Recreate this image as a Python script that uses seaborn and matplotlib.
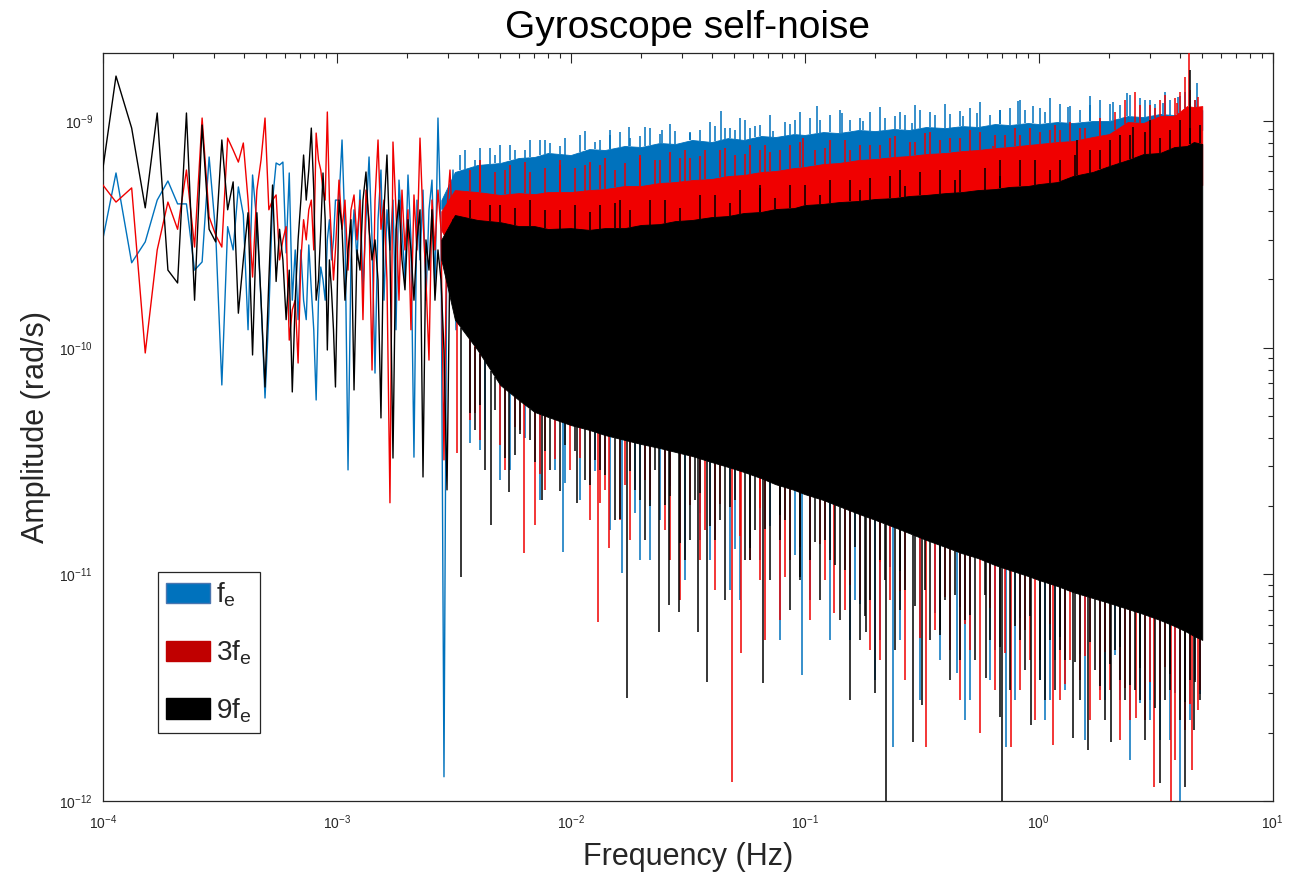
import numpy as np
import matplotlib
matplotlib.use("Agg")
import matplotlib.pyplot as plt
from matplotlib.patches import Patch
from matplotlib.ticker import FixedLocator, NullFormatter, LogFormatterSciNotation
import seaborn as sns

# ---------------------------------------------------------------------------
# Data (amplitudes in units of 1e-10 rad/s, frequencies in Hz)
# ---------------------------------------------------------------------------
AMP_UNIT = 1e-10

series_names = ["f$_{\\mathregular{e}}$", "3f$_{\\mathregular{e}}$", "9f$_{\\mathregular{e}}$"]
line_colors = ["#0072BD", "#F00000", "#000000"]
legend_faces = ["#0072BD", "#C00000", "#000000"]
legend_edges = ["#4A76B0", "#C00000", "#000000"]

x_major = [1e-4, 1e-3, 1e-2, 1e-1, 1e0, 1e1]
y_major = [1e-12, 1e-11, 1e-10, 1e-9]

# lowest spectral bins (bin spacing 1.9e-5 Hz, bins 5..52)
bin_width = 1.9e-5
low_bins = np.arange(5, 53)

blue_low = [2.29, 5.90, 2.37, 2.93, 4.48, 5.44, 4.31, 4.31, 2.20, 2.39,
            6.94, 3.21, 0.685, 3.42, 2.70, 5.12, 3.86, 1.20, 5.78, 3.56,
            1.62, 0.600, 1.42, 4.48, 6.53, 6.40, 6.59, 2.62, 5.90, 1.62,
            2.70, 1.33, 2.70, 1.62, 1.33, 2.84, 1.80, 1.20, 0.588, 1.62,
            2.27, 1.99, 1.62, 2.99, 3.67, 2.44, 2.99, 4.48]
red_low = [5.61, 4.39, 5.07, 0.948, 2.70, 4.39, 3.33, 6.08, 2.78, 10.31,
           3.78, 3.14, 2.78, 8.41, 7.45, 6.59, 8.00, 4.48, 2.05, 4.96,
           6.73, 10.31, 4.06, 4.48, 4.72, 2.44, 2.99, 3.42, 1.08, 1.47,
           1.62, 0.856, 2.44, 3.67, 2.99, 4.06, 4.48, 2.70, 8.85, 6.73,
           6.08, 4.96, 4.48, 10.96, 4.48, 2.99, 1.99, 2.70]
black_low = [4.18, 15.79, 9.31, 4.14, 10.85, 2.20, 1.93, 10.85, 1.62, 9.60,
             3.33, 2.93, 8.25, 4.06, 5.39, 1.42, 2.44, 3.94, 0.929, 3.94,
             1.62, 0.671, 1.99, 5.22, 1.96, 3.33, 2.44, 1.33, 2.20, 0.638,
             1.62, 2.99, 4.48, 7.08, 4.48, 6.08, 9.31, 4.96, 1.62, 1.99,
             3.33, 5.90, 3.67, 0.977, 2.44, 1.80, 1.20, 0.671]

# 1 mHz .. 3.2 mHz
mid_freq = [1.023e-3, 1.054e-3, 1.085e-3, 1.118e-3, 1.151e-3, 1.186e-3, 1.221e-3, 1.258e-3,
            1.295e-3, 1.334e-3, 1.375e-3, 1.416e-3, 1.458e-3, 1.502e-3, 1.546e-3, 1.593e-3,
            1.640e-3, 1.689e-3, 1.740e-3, 1.792e-3, 1.846e-3, 1.901e-3, 1.958e-3, 2.017e-3,
            2.077e-3, 2.139e-3, 2.203e-3, 2.270e-3, 2.338e-3, 2.407e-3, 2.480e-3, 2.554e-3,
            2.630e-3, 2.709e-3, 2.791e-3, 2.874e-3, 2.961e-3, 3.049e-3, 3.141e-3, 3.235e-3]
blue_mid = [4.48, 8.25, 3.33, 0.289, 2.44, 4.06, 2.44, 4.96, 1.80, 3.67,
            6.94, 2.99, 0.773, 3.67, 6.08, 1.62, 4.06, 2.70, 4.48, 1.20,
            5.49, 3.33, 1.99, 5.78, 2.99, 0.329, 4.48, 2.44, 4.96, 1.62,
            4.06, 5.49, 1.80, 10.31, 3.33, 0.0128, 4.48, 2.44, 6.08, 1.20]
red_mid = [5.49, 3.33, 4.48, 2.20, 4.06, 4.72, 2.99, 4.48, 1.33, 4.96,
           3.67, 0.797, 4.48, 8.25, 3.33, 4.48, 1.99, 0.207, 8.08, 4.06,
           1.62, 4.96, 2.70, 4.06, 1.20, 4.72, 2.70, 8.41, 3.67, 1.99,
           0.882, 4.48, 2.70, 4.96, 3.33, 0.320, 4.06, 6.08, 2.99, 4.48]
black_mid = [4.48, 3.33, 1.62, 2.70, 3.67, 0.651, 2.70, 2.20, 4.48, 5.96,
             3.33, 2.44, 2.99, 1.99, 0.490, 4.06, 7.08, 2.70, 0.326, 3.33,
             4.48, 2.44, 1.80, 3.67, 2.70, 1.62, 2.99, 4.06, 0.269, 2.99,
             2.20, 4.06, 1.62, 2.70, 1.99, 0.977, 0.236, 2.70, 3.67, 1.62]

# dense part of the spectrum: envelope of each trace above 2.8 mHz
band_freq = [2.8e-3, 3.2e-3, 4e-3, 5e-3, 6e-3, 7e-3, 8e-3, 1e-2, 1.2e-2, 1.4e-2, 1.7e-2,
             2e-2, 2.4e-2, 2.8e-2, 3.3e-2, 4e-2, 4.7e-2, 5.5e-2, 6.5e-2, 7.5e-2, 9e-2,
             0.1, 0.12, 0.14, 0.17, 0.2, 0.24, 0.28, 0.33, 0.4, 0.47,
             0.55, 0.65, 0.75, 0.9, 1.0, 1.2, 1.4, 1.7, 2.0, 2.4,
             2.8, 3.3, 3.8, 4.3, 4.6, 5.0]
blue_top = [4.48, 5.96, 6.40, 6.53, 6.87, 6.94, 7.23, 7.08, 7.52, 7.45, 7.76,
            7.68, 8.00, 7.92, 8.25, 8.08, 8.41, 8.25, 8.59, 8.50, 8.76,
            8.68, 8.94, 8.85, 9.13, 9.03, 9.22, 9.13, 9.41, 9.31, 9.50,
            9.41, 9.70, 9.60, 9.80, 9.70, 9.90, 9.80, 10.0, 10.0, 10.52,
            10.41, 10.74, 10.63, 11.18, 11.07, 11.18]
blue_floor = [4.10, 4.05, 4.26, 3.93, 4.35, 4.05, 4.48, 4.13, 4.62, 4.26, 4.72,
              4.39, 4.81, 4.48, 4.96, 4.62, 5.12, 4.72, 5.33, 4.91, 5.49,
              5.12, 5.61, 5.22, 5.78, 5.44, 5.90, 5.49, 6.02, 5.66, 6.08,
              5.78, 6.20, 5.90, 6.40, 5.96, 6.53, 6.08, 6.87, 6.40, 8.00,
              7.45, 8.50, 8.00, 9.60, 8.85, 9.13]
red_top = [4.00, 4.96, 4.86, 4.72, 4.81, 4.76, 4.86, 4.86, 4.96, 5.01, 5.17,
           5.17, 5.33, 5.38, 5.49, 5.55, 5.72, 5.78, 5.96, 6.02, 6.20,
           6.27, 6.46, 6.53, 6.73, 6.80, 6.94, 7.01, 7.15, 7.23, 7.37,
           7.45, 7.60, 7.68, 7.84, 7.92, 8.08, 8.16, 8.50, 8.76, 9.90,
           9.80, 10.52, 10.52, 11.64, 11.53, 11.64]
red_floor = [3.30, 2.56, 2.39, 2.49, 2.25, 2.39, 2.16, 2.32, 2.09, 2.29, 2.16,
             2.39, 2.25, 2.49, 2.32, 2.59, 2.44, 2.70, 2.54, 2.81, 2.64,
             2.90, 2.75, 2.99, 2.84, 3.08, 2.93, 3.14, 2.99, 3.24, 3.08,
             3.31, 3.17, 3.44, 3.31, 3.55, 3.44, 3.85, 3.97, 4.26, 4.48,
             4.86, 4.72, 5.22, 5.07, 5.49, 5.22]
black_top = [3.00, 3.85, 3.66, 3.58, 3.44, 3.44, 3.34, 3.37, 3.31, 3.37, 3.37,
             3.48, 3.51, 3.62, 3.66, 3.77, 3.81, 3.93, 3.97, 4.09, 4.13,
             4.26, 4.31, 4.39, 4.44, 4.53, 4.57, 4.67, 4.72, 4.81, 4.86,
             4.96, 5.01, 5.12, 5.17, 5.27, 5.38, 5.72, 5.96, 6.33, 6.73,
             7.15, 7.23, 7.68, 7.76, 8.08, 7.92]
black_floor = [2.44, 1.33, 0.977, 0.685, 0.588, 0.521, 0.495, 0.456, 0.434, 0.412, 0.392,
               0.376, 0.361, 0.347, 0.333, 0.313, 0.298, 0.283, 0.266, 0.250, 0.236,
               0.226, 0.213, 0.200, 0.185, 0.174, 0.162, 0.152, 0.142, 0.132, 0.124,
               0.118, 0.110, 0.1046, 0.0984, 0.0945, 0.0889, 0.0836, 0.0787, 0.0748, 0.0704,
               0.0669, 0.0629, 0.0592, 0.0557, 0.0535, 0.0514]

# isolated peaks above the envelopes
blue_up_freq = [4.99e-3, 7.39e-3, 1.151e-2, 1.472e-2, 1.775e-2, 2.456e-2, 3.24e-2, 4.14e-2, 4.39e-2, 5.04e-2,
                5.84e-2, 7.32e-2, 9.09e-2, 0.1129, 0.1443, 0.1775, 0.2204, 0.2555, 0.2874, 0.3605,
                0.4748, 0.545, 0.6833, 0.8157, 0.9454, 1.334, 1.657, 2.077, 2.385, 2.846,
                3.398, 3.94, 4.75,
                3.534e-3, 3.900e-3, 4.520e-3, 5.782e-3, 6.702e-3, 8.160e-3, 9.458e-3, 1.334e-2, 1.625e-2, 1.978e-2,
                2.182e-2, 2.791e-2, 3.569e-2, 4.795e-2, 5.558e-2, 6.442e-2, 8.238e-2, 0.1054, 0.1283, 0.1562,
                0.1901, 0.2432, 0.3110, 0.4178, 0.5086, 0.6192, 0.7539, 0.8738, 1.064, 1.233,
                1.501, 1.828, 2.225, 2.709, 3.140, 3.640, 4.219, 4.655]
blue_up_amp = [7.84, 8.25, 9.03, 8.68, 9.41, 9.13, 8.85, 9.50, 11.1, 9.13,
               9.31, 9.03, 10.1, 11.6, 10.85, 10.0, 10.31, 10.96, 9.80, 10.63,
               10.52, 10.85, 11.2, 12.3, 11.6, 11.5, 11.8, 12.1, 13.3, 12.4,
               12.0, 12.8, 14.7,
               7.45, 6.73, 7.60, 7.45, 8.25, 8.00, 8.41, 8.25, 8.94, 8.59,
               9.31, 9.03, 9.13, 9.31, 10.10, 9.60, 9.90, 10.31, 10.63, 10.10,
               10.96, 10.52, 11.18, 10.74, 11.41, 10.63, 11.41, 11.18, 10.96, 11.88,
               11.18, 12.38, 11.76, 12.63, 11.88, 12.38, 13.42, 12.38]
blue_grass_freq = [3.364e-3, 4.097e-3, 4.748e-3, 5.504e-3, 6.380e-3, 7.768e-3, 9.004e-3, 1.0958e-2, 1.2702e-2, 1.4722e-2,
                   1.7925e-2, 2.0776e-2, 2.4080e-2, 2.6571e-2, 3.2350e-2, 3.9385e-2, 4.5649e-2, 5.2909e-2, 6.1325e-2, 7.1078e-2,
                   8.6537e-2, 9.5484e-2, 0.11624, 0.14153, 0.17231, 0.20978, 0.26829, 0.29604, 0.34311, 0.39770,
                   0.46096, 0.56122, 0.68328, 0.83189, 1.0129, 1.1176, 1.3606, 1.6566, 2.0169, 2.4555,
                   2.9896, 3.4650, 4.0161]
blue_grass_amp = [7.08, 7.60, 7.08, 7.84, 7.45, 8.25, 7.76, 8.68, 8.08, 9.13,
                  8.41, 9.41, 8.76, 9.70, 8.94, 9.90, 9.31, 10.31, 9.50, 10.63,
                  9.70, 10.96, 10.10, 11.18, 10.31, 11.53, 10.63, 11.76, 10.96, 11.88,
                  11.07, 12.13, 11.18, 12.38, 11.41, 12.63, 11.64, 12.89, 11.88, 13.02,
                  12.38, 13.42, 12.89]
red_up_freq = [4.10e-3, 9.00e-3, 1.978e-2, 4.35e-2, 9.83e-2, 0.1562, 0.3786, 0.6378, 1.118, 1.828,
               2.580, 3.299, 3.90, 4.22, 4.39, 4.80, 1.334e-2, 2.93e-2, 6.44e-2, 0.2098, 0.832,
               3.712e-3, 4.748e-3, 5.504e-3, 6.702e-3, 1.043e-2, 1.209e-2, 1.547e-2, 2.293e-2, 2.657e-2, 3.235e-2,
               3.749e-2, 5.037e-2, 5.838e-2, 7.108e-2, 8.654e-2, 0.1107, 0.1283, 0.1723, 0.2315, 0.2960,
               0.3431, 0.4610, 0.5612, 0.7177, 0.9179, 1.233, 1.361, 1.577, 2.119, 2.338,
               2.990, 3.465, 4.016, 4.655]
red_up_amp = [6.73, 6.40, 6.87, 7.45, 8.41, 7.45, 8.25, 7.76, 9.13, 9.60,
              13.4, 12.4, 12.0, 15.6, 21.6, 12.8, 6.40, 6.87, 7.45, 7.84, 8.68,
              6.08, 5.96, 6.40, 5.96, 6.20, 6.60, 6.08, 6.73, 7.30, 6.87,
              7.45, 7.08, 7.84, 7.30, 7.84, 7.45, 8.25, 7.84, 8.41, 8.08,
              8.94, 8.41, 8.94, 8.68, 9.31, 9.13, 9.90, 9.31, 10.96, 12.38,
              11.76, 13.02, 13.42, 12.38]
red_grass_freq = [4.097e-3, 5.240e-3, 6.380e-3, 7.768e-3, 9.004e-3, 1.1511e-2, 1.4015e-2, 1.7064e-2, 1.9778e-2, 2.4080e-2,
                  3.0797e-2, 3.5694e-2, 4.5649e-2, 5.5577e-2, 6.7665e-2, 7.8427e-2, 9.5484e-2, 0.12211, 0.14867, 0.19013,
                  0.24315, 0.28184, 0.32664, 0.41775, 0.50862, 0.65047, 0.79195, 1.0129, 1.1739, 1.5013,
                  1.8279, 2.7094, 3.1404, 3.8233, 4.4313]
red_grass_amp = [6.40, 6.08, 6.60, 6.20, 6.73, 6.40, 6.87, 6.53, 7.08, 6.73,
                 7.45, 7.01, 7.60, 7.15, 7.84, 7.45, 8.08, 7.60, 8.25, 7.84,
                 8.59, 8.08, 8.85, 8.41, 9.13, 8.68, 9.31, 8.94, 9.60, 9.31,
                 10.31, 11.76, 11.41, 12.63, 13.70]
black_up_freq = [1.624e-2, 6.44e-2, 0.2555, 0.6833, 1.458, 2.529, 2.989, 4.43,
                 4.988e-3, 9.004e-3, 1.334e-2, 2.182e-2, 3.569e-2, 5.291e-2, 8.654e-2, 0.1283, 0.1901, 0.3110,
                 0.4610, 0.8319, 1.233, 1.828, 2.225, 3.640, 4.016, 4.890]
black_up_amp = [4.48, 5.22, 6.08, 6.73, 8.25, 9.41, 10.1, 16.8,
                4.26, 4.05, 4.26, 4.48, 4.72, 4.96, 5.22, 5.49, 5.61, 5.96,
                6.08, 6.73, 6.73, 7.45, 8.68, 9.13, 10.10, 9.60]
black_grass_freq = [3.712e-3, 4.520e-3, 5.782e-3, 6.702e-3, 7.768e-3, 1.0432e-2, 1.2092e-2, 1.5465e-2, 1.7925e-2, 2.5295e-2,
                    2.9318e-2, 4.1372e-2, 4.7951e-2, 6.4416e-2, 7.4663e-2, 0.10030, 0.11624, 0.15617, 0.17231, 0.23147,
                    0.26829, 0.37860, 0.43882, 0.58951, 0.68328, 0.96420, 1.1176, 1.4292, 1.6566, 2.0169,
                    2.4555, 2.8460, 3.2987, 4.4313]
black_grass_amp = [4.48, 4.26, 4.13, 4.48, 4.05, 4.26, 3.97, 4.35, 4.05, 4.48,
                   4.13, 4.72, 4.35, 5.07, 4.57, 5.22, 4.72, 5.49, 4.96, 5.72,
                   5.17, 6.08, 5.49, 6.20, 5.72, 6.73, 6.08, 7.08, 7.45, 8.25,
                   8.68, 8.94, 8.41, 9.31]

# isolated dips below the envelopes
blue_down_freq = [3.71e-3, 4.99e-3, 9.27e-3, 1.657e-2, 2.183e-2, 4.80e-2, 9.74e-2, 0.1562, 0.2385, 0.4477,
                  0.7251, 1.118, 1.828, 2.989, 4.02, 4.66, 3.57e-2, 0.2098, 0.5087, 1.013,
                  2.225, 3.299,
                  4.097e-3, 5.504e-3, 7.395e-3, 8.571e-3, 1.096e-2, 1.472e-2, 1.978e-2, 2.408e-2, 3.080e-2, 3.939e-2,
                  5.291e-2, 6.442e-2, 7.843e-2, 0.1054, 0.1283, 0.1640, 0.1997, 0.2554, 0.3110, 0.3786,
                  0.4842, 0.6192, 0.7920, 1.064, 1.295, 1.577, 1.920, 2.456, 2.990, 3.640,
                  4.431]
blue_down_amp = [0.380, 0.261, 0.126, 0.101, 0.116, 0.0853, 0.0360, 0.0514, 0.0173, 0.0367,
                 0.0173, 0.0279, 0.0309, 0.0228, 0.0095, 0.0342, 0.142, 0.0514, 0.0279, 0.0342,
                 0.0279, 0.0186,
                 0.354, 0.289, 0.213, 0.289, 0.213, 0.157, 0.116, 0.174, 0.0945, 0.116,
                 0.0771, 0.116, 0.0514, 0.0771, 0.0514, 0.0771, 0.0342, 0.0514, 0.0279, 0.0419,
                 0.0228, 0.0342, 0.0279, 0.0228, 0.0309, 0.0186, 0.0279, 0.0152, 0.0279, 0.0186,
                 0.0228]
blue_fringe_freq = [4.303e-3, 6.380e-3, 9.458e-3, 1.2702e-2, 1.8829e-2, 2.6571e-2, 3.5694e-2, 5.0370e-2, 7.1078e-2, 9.0902e-2,
                    0.12827, 0.17231, 0.23147, 0.36042, 0.46096, 0.65047, 0.83189, 1.1739, 1.5013, 2.1186,
                    2.7094, 3.8233, 4.8895]
blue_fringe_amp = [0.434, 0.400, 0.253, 0.286, 0.187, 0.245, 0.187, 0.129, 0.1634, 0.122,
                   0.124, 0.0740, 0.108, 0.0676, 0.0718, 0.0464, 0.0642, 0.0419, 0.0446, 0.0441,
                   0.0271, 0.0300, 0.0297]
red_down_freq = [3.27e-3, 6.32e-3, 7.04e-3, 1.308e-2, 1.458e-2, 2.93e-2, 4.89e-2, 5.34e-2, 7.84e-2, 0.1334,
                 0.2098, 0.3299, 0.5612, 0.7613, 1.151, 1.828, 2.605, 3.110, 3.676, 4.52,
                 4.80, 1.624e-2, 3.57e-2, 6.44e-2, 0.1724, 0.4178, 0.832, 1.501, 2.456, 4.02,
                 3.712e-3, 4.097e-3, 5.240e-3, 6.073e-3, 7.768e-3, 9.931e-3, 1.209e-2, 1.402e-2, 1.793e-2, 2.182e-2,
                 2.657e-2, 3.749e-2, 4.137e-2, 5.838e-2, 6.767e-2, 8.654e-2, 0.1054, 0.1221, 0.1487, 0.1901,
                 0.2315, 0.2683, 0.3604, 0.4610, 0.5086, 0.6505, 0.9179, 0.9642, 1.233, 1.361,
                 1.657, 2.017, 2.225, 2.846, 3.299, 3.823, 4.219, 4.890]
red_down_amp = [0.343, 0.124, 0.165, 0.0617, 0.131, 0.0771, 0.0121, 0.0450, 0.0629, 0.0676,
                0.0419, 0.0173, 0.0200, 0.0173, 0.0177, 0.0279, 0.0233, 0.0115, 0.0095, 0.0137,
                0.0252, 0.174, 0.116, 0.0945, 0.0771, 0.0464, 0.0309, 0.0342, 0.0228, 0.0279,
                0.480, 0.392, 0.289, 0.434, 0.236, 0.289, 0.174, 0.236, 0.142, 0.213,
                0.116, 0.157, 0.0853, 0.116, 0.0514, 0.116, 0.0629, 0.0945, 0.0697, 0.0464,
                0.0771, 0.0342, 0.0568, 0.0279, 0.0464, 0.0309, 0.0419, 0.0228, 0.0279, 0.0419,
                0.0228, 0.0309, 0.0186, 0.0228, 0.0279, 0.0152, 0.0206, 0.0309]
red_fringe_freq = [3.900e-3, 4.988e-3, 5.782e-3, 7.395e-3, 8.571e-3, 1.0958e-2, 1.3342e-2, 1.7064e-2, 2.0776e-2, 2.5295e-2,
                   3.2350e-2, 4.3457e-2, 5.2909e-2, 6.4416e-2, 8.2382e-2, 9.5484e-2, 0.11624, 0.15617, 0.20978, 0.25540,
                   0.31097, 0.39770, 0.48420, 0.61924, 0.71773, 0.87384, 1.1176, 1.2953, 1.5770, 1.9200,
                   2.3376, 2.9896, 3.4650, 4.4313]
red_fringe_amp = [0.515, 0.372, 0.447, 0.277, 0.323, 0.326, 0.207, 0.248, 0.261, 0.157,
                  0.202, 0.204, 0.148, 0.196, 0.0974, 0.132, 0.136, 0.0898, 0.113, 0.0845,
                  0.0524, 0.0795, 0.0604, 0.0711, 0.0450, 0.0568, 0.0604, 0.0328, 0.0437, 0.0455,
                  0.0315, 0.0335, 0.0390, 0.0268]
black_down_freq = [3.40e-3, 4.56e-3, 5.45e-3, 7.54e-3, 1.064e-2, 1.740e-2, 2.385e-2, 2.631e-2, 2.902e-2, 3.50e-2,
                   3.82e-2, 6.64e-2, 0.1562, 0.1828, 0.1998, 0.2226, 0.2903, 0.3171, 0.5955, 0.6833,
                   0.6970, 0.9270, 1.402, 1.624, 2.037, 3.299, 4.22, 4.61,
                   1.334e-2, 1.978e-2, 3.24e-2, 4.35e-2, 5.84e-2, 7.84e-2, 9.55e-2, 0.1283, 0.2555, 0.3786,
                   0.461, 1.013, 1.233, 2.225, 2.709, 3.64,
                   3.900e-3, 4.303e-3, 4.748e-3, 5.782e-3, 6.702e-3, 8.160e-3, 9.458e-3, 1.151e-2, 1.270e-2, 1.547e-2,
                   1.883e-2, 2.078e-2, 2.293e-2, 2.530e-2, 3.080e-2, 3.398e-2, 4.137e-2, 4.565e-2, 5.037e-2, 5.558e-2,
                   6.133e-2, 7.108e-2, 8.238e-2, 8.654e-2, 0.1054, 0.1162, 0.1221, 0.1415, 0.1487, 0.1723,
                   0.1901, 0.2098, 0.2432, 0.2683, 0.3431, 0.3977, 0.4178, 0.4842, 0.5343, 0.6192,
                   0.7539, 0.8319, 0.8738, 1.064, 1.118, 1.174, 1.295, 1.501, 1.740, 1.920,
                   2.119, 2.338, 2.579, 2.846, 3.465, 4.016, 4.431, 4.890]
black_down_amp = [0.0974, 0.165, 0.231, 0.213, 0.207, 0.0285, 0.0557, 0.0733, 0.0682, 0.0557,
                  0.0335, 0.0332, 0.0279, 0.0557, 0.0300, 0.0095, 0.0182, 0.0265, 0.0349, 0.0235,
                  0.0095, 0.0217, 0.0190, 0.0168, 0.0182, 0.0120, 0.0115, 0.0206,
                  0.289, 0.213, 0.142, 0.174, 0.116, 0.142, 0.0945, 0.116, 0.0697, 0.0568,
                  0.0419, 0.0419, 0.0464, 0.0342, 0.0279, 0.0309,
                  0.434, 0.289, 0.531, 0.336, 0.392, 0.289, 0.372, 0.261, 0.320, 0.174,
                  0.236, 0.142, 0.289, 0.202, 0.116, 0.213, 0.142, 0.0771, 0.213, 0.116,
                  0.157, 0.0945, 0.174, 0.0697, 0.116, 0.0771, 0.142, 0.0629, 0.1046, 0.0514,
                  0.0771, 0.116, 0.0464, 0.0853, 0.0514, 0.0771, 0.0342, 0.0629, 0.0419, 0.0514,
                  0.0309, 0.0514, 0.0379, 0.0279, 0.0514, 0.0309, 0.0419, 0.0279, 0.0379, 0.0228,
                  0.0464, 0.0279, 0.0309, 0.0186, 0.0279, 0.0228, 0.0342, 0.0279]
black_fringe_freq = [3.712e-3, 4.097e-3, 5.240e-3, 6.073e-3, 7.040e-3, 7.768e-3, 9.004e-3, 1.0432e-2, 1.2092e-2, 1.4015e-2,
                     1.6245e-2, 1.7925e-2, 2.1824e-2, 2.6571e-2, 2.9318e-2, 3.5694e-2, 3.9385e-2, 4.7951e-2, 5.838e-2, 6.7665e-2,
                     7.8427e-2, 9.5484e-2, 0.11067, 0.13474, 0.16404, 0.18100, 0.22036, 0.25540, 0.29604, 0.32664,
                     0.37860, 0.43882, 0.50862, 0.58951, 0.68328, 0.79195, 0.91791, 1.0129, 1.2331, 1.4292,
                     1.6566, 1.8279, 2.0169, 2.2254, 2.4555, 2.7094, 3.1404, 3.6398, 4.2186, 4.6548]
black_fringe_amp = [0.515, 0.559, 0.326, 0.416, 0.313, 0.350, 0.233, 0.350, 0.248, 0.274,
                    0.176, 0.286, 0.200, 0.222, 0.1376, 0.2287, 0.1634, 0.198, 0.131, 0.1586,
                    0.183, 0.0974, 0.139, 0.110, 0.132, 0.0655, 0.0945, 0.1035, 0.0725, 0.0853,
                    0.0540, 0.0811, 0.0662, 0.0811, 0.0478, 0.0592, 0.0655, 0.0342, 0.0529, 0.0411,
                    0.0503, 0.0322, 0.0403, 0.0478, 0.0325, 0.0387, 0.0257, 0.0364, 0.0274, 0.0335]

traces = [
    dict(low=blue_low, mid=blue_mid, top=blue_top, floor=blue_floor,
         up=(blue_up_freq + blue_grass_freq, blue_up_amp + blue_grass_amp),
         down=(blue_down_freq + blue_fringe_freq, blue_down_amp + blue_fringe_amp)),
    dict(low=red_low, mid=red_mid, top=red_top, floor=red_floor,
         up=(red_up_freq + red_grass_freq, red_up_amp + red_grass_amp),
         down=(red_down_freq + red_fringe_freq, red_down_amp + red_fringe_amp)),
    dict(low=black_low, mid=black_mid, top=black_top, floor=black_floor,
         up=(black_up_freq + black_grass_freq, black_up_amp + black_grass_amp),
         down=(black_down_freq + black_fringe_freq, black_down_amp + black_fringe_amp)),
]

# ---------------------------------------------------------------------------
# Style
# ---------------------------------------------------------------------------
sns.set_theme(style="white")
plt.rcParams["font.family"] = ["Liberation Sans", "DejaVu Sans"]
plt.rcParams["mathtext.fontset"] = "custom"
plt.rcParams["mathtext.rm"] = "Liberation Sans"
plt.rcParams["mathtext.it"] = "Liberation Sans:italic"
plt.rcParams["mathtext.bf"] = "Liberation Sans:bold"
TEXT = "#262626"


def edge_at(freq, nodes, edge):
    """Log-log interpolation of an envelope at the given frequencies."""
    return 10 ** np.interp(np.log10(freq), np.log10(nodes), np.log10(edge))


fig = plt.figure(figsize=(12.9, 8.8), dpi=100)
ax = fig.add_axes([0.0796, 0.0897, 0.9070, 0.8503])
ax.set_xscale("log")
ax.set_yscale("log")

low_freq = low_bins * bin_width
for z, (spec, color) in enumerate(zip(traces, line_colors), start=2):
    freq = np.concatenate([low_freq, mid_freq])
    amp = np.concatenate([spec["low"], spec["mid"]]) * AMP_UNIT
    sns.lineplot(x=freq, y=amp, color=color, lw=1.0, estimator=None,
                 sort=False, ax=ax, zorder=z)
    top = np.array(spec["top"])
    floor = np.array(spec["floor"])
    ax.fill_between(band_freq, floor * AMP_UNIT, top * AMP_UNIT,
                    color=color, lw=0.6, edgecolor=color, zorder=z)
    uf, ua = np.array(spec["up"][0]), np.array(spec["up"][1])
    ax.vlines(uf, edge_at(uf, band_freq, top) * AMP_UNIT, ua * AMP_UNIT,
              color=color, lw=1.1, zorder=z)
    df_, da = np.array(spec["down"][0]), np.array(spec["down"][1])
    ax.vlines(df_, edge_at(df_, band_freq, floor) * AMP_UNIT, da * AMP_UNIT,
              color=color, lw=1.1, zorder=z)

ax.set_xlim(1e-4, 10)
ax.set_ylim(1e-12, 2e-9)

x_minor = [k * 10.0 ** d for d in range(-4, 1) for k in range(2, 10)]
y_minor = [k * 10.0 ** d for d in range(-12, -9) for k in range(2, 10)] + [2e-9]
ax.xaxis.set_major_locator(FixedLocator(x_major))
ax.yaxis.set_major_locator(FixedLocator(y_major))
ax.xaxis.set_major_formatter(LogFormatterSciNotation())
ax.yaxis.set_major_formatter(LogFormatterSciNotation())
ax.xaxis.set_minor_locator(FixedLocator(x_minor))
ax.yaxis.set_minor_locator(FixedLocator(y_minor))
ax.xaxis.set_minor_formatter(NullFormatter())
ax.yaxis.set_minor_formatter(NullFormatter())
ax.tick_params(which="both", direction="in", top=True, right=True,
               color=TEXT, labelcolor=TEXT, width=0.8, labelsize=10)
ax.tick_params(which="major", length=7)
ax.tick_params(axis="x", which="major", pad=9)
ax.tick_params(axis="y", which="major", pad=7)
ax.tick_params(which="minor", length=3.5)
for spine in ax.spines.values():
    spine.set_visible(True)
    spine.set_color(TEXT)
    spine.set_linewidth(0.9)
ax.grid(False)

ax.set_title("Gyroscope self-noise", fontsize=28, color="black", pad=11)
ax.set_xlabel("Frequency (Hz)", fontsize=22, color=TEXT, labelpad=7)
ax.set_ylabel("Amplitude (rad/s)", fontsize=22, color=TEXT, labelpad=6)

handles = [Patch(facecolor=fc, edgecolor=ec, lw=1.0, label=lab)
           for fc, ec, lab in zip(legend_faces, legend_edges, series_names)]
leg = ax.legend(handles=handles, loc="lower left", bbox_to_anchor=(0.047, 0.091),
                borderaxespad=0, fontsize=20, frameon=True, fancybox=False,
                framealpha=1, edgecolor=TEXT, handlelength=1.6, handleheight=0.75,
                handletextpad=0.2, labelspacing=1.05, borderpad=0.3)
leg.get_frame().set_linewidth(0.9)
leg.set_zorder(10)

fig.savefig("out.png", dpi=100, facecolor="white")
